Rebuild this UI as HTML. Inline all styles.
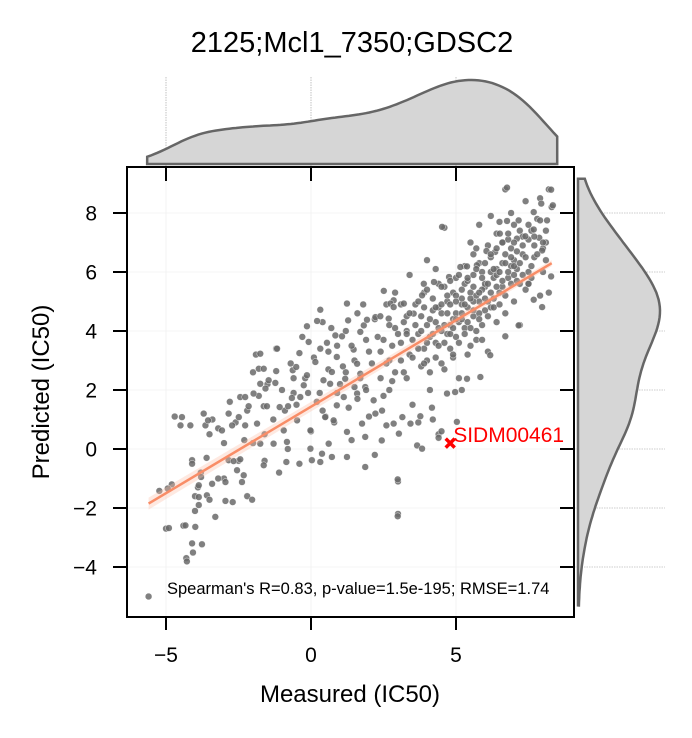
<!DOCTYPE html>
<html><head><meta charset="utf-8">
<style>
html,body{margin:0;padding:0;background:#fff;}
svg{display:block;font-family:"Liberation Sans",sans-serif;}
</style></head>
<body>
<svg id="chart" width="692" height="738" viewBox="0 0 692 738">
<text x="352" y="52" text-anchor="middle" font-size="29" fill="#000">2125;Mcl1_7350;GDSC2</text>
<g id="gTop"></g>
<g id="gRight"></g>
<g id="gMain"></g>
<text x="350" y="702" text-anchor="middle" font-size="24">Measured (IC50)</text>
<text transform="translate(49,392) rotate(-90)" text-anchor="middle" font-size="24">Predicted (IC50)</text>
</svg>
<script>
const measured=[-5.6,-5.0,-4.7,-4.5,-4.3,-4.1,-4.4,-4.0,-3.9,-3.8,-3.6,-3.5,-3.4,-3.7,-3.2,-3.0,-3.0,-2.8,-2.6,-2.5,-2.3,-2.2,-2.0,-1.9,-1.8,-1.6,-1.5,-1.3,-1.2,-1.0,-0.8,-0.7,-0.5,-0.3,-0.2,0.0,0.1,0.3,0.4,0.6,0.8,0.9,1.0,1.2,1.3,1.5,1.6,1.7,1.9,2.0,2.1,2.2,2.4,2.5,2.6,2.7,2.8,2.9,3.0,3.0,3.1,3.2,3.3,3.4,3.5,3.6,3.7,3.8,3.9,4.0,4.0,4.1,4.2,4.3,4.4,4.4,4.5,4.6,4.6,4.7,4.8,4.9,5.0,5.0,5.1,5.2,5.3,5.3,5.4,5.5,5.6,5.6,5.7,5.8,5.9,5.9,6.0,6.1,6.1,6.2,6.3,6.4,6.4,6.5,6.6,6.7,6.7,6.8,6.9,7.0,7.0,7.1,7.2,7.3,7.4,7.4,7.5,7.6,7.7,7.8,7.9,7.9,8.0,8.1,8.2,8.3,8.2,8.0,5.2,4.2,3.7,2.2,1.4,-0.4,-1.1,-2.7,-3.3,-4.8,-4.0,1.8,0.7,2.9,4.3,5.5,3.4,6.2,6.9,7.6,5.8,4.0,3.1,2.3,1.1,0.2,-0.9,-2.0,-1.6,4.5,4.8,5.1,5.4,5.7,6.0,6.3,4.3,4.7,5.0,5.3,5.6,5.9,6.2,6.6,6.9,7.2,4.1,3.8,3.5,4.9,5.2,5.5,5.8,6.1,6.4,6.7,7.0,7.3,7.7,4.6,5.0,5.4,5.8,6.2,6.6,7.0,4.4,4.8,5.2,5.6,6.0,6.4,6.8,3.9,3.3,2.7,1.5,0.5,-0.6,7.5,8.1,6.5,5.7,4.9,
-4.45,-4.16,-3.64,-3.55,-5.23,-4.94,-4.1,-4.1,-3.79,-3.87,-3.87,-3.87,-3.59,-3.5,-4.9,-4.33,-3.99,-3.76,-4.07,-4.28,-3.2,-2.95,-2.95,-3.41,-2.2,-2.03,-3.07,-2.84,-2.72,-2.49,-2.44,-2.27,-2.15,-2.27,-1.98,-1.86,-1.75,-1.8,-1.63,-1.75,-1.57,-1.46,-1.23,-1.17,-1.2,-1.63,-1.52,-1.75,-2.84,-2.67,-2.55,-2.44,-2.32,-2.38,-1.63,-1.29,-0.83,-0.85,-1.08,-0.79,-0.66,-0.37,-0.48,-0.94,-0.63,-0.51,-0.4,-0.25,-0.14,0.15,-0.08,-0.02,-0.02,0.03,0.32,0.38,0.61,0.72,1.24,1.24,1.87,0.49,0.78,0.89,1.13,0.32,0.21,-0.14,0.32,0.55,0.84,1.07,1.24,1.28,0.89,0.72,0.43,0.66,1.18,1.47,1.59,1.7,1.82,1.93,2.22,2.39,2.68,2.51,2.85,2.74,1.7,1.87,1.59,2.16,2.22,2.45,1.76,1.87,2.44,2.6,2.85,3.03,2.99,2.99,3.15,3.43,3.66,3.83,3.77,4.17,4.4,4.5,5.03,4.52,6.76,8.28,7.94,8.34,6.76,7.16,8.14,7.68,7.9,6.51,7.1,7.39,7.68,7.87,7.97,6.05,6.35,8.28,7.97,7.68,7.5,7.16,6.7,5.84,5.38,6.18,4.69,4.97,5.15,5.38,5.72,3.89,4.24,4.76,3.83,3.2,2.85,3.54,
3.3,3.4,3.5,3.6,3.7,3.7,3.8,3.9,3.9,4.0,4.0,4.1,4.1,4.2,4.2,4.3,4.3,4.4,4.4,4.5,4.5,4.5,4.6,4.6,4.7,4.7,4.8,4.8,4.9,4.9,5.0,5.0,5.1,5.1,5.2,5.2,5.3,5.3,5.4,5.4,5.5,5.5,5.6,5.6,5.7,5.7,5.8,5.8,5.9,5.9,6.0,6.0,6.1,6.1,6.2,6.2,6.3,6.3,6.4,6.4,6.5,6.5,6.6,6.6,6.7,6.7,6.8,6.8,6.9,6.9,7.0,7.0,7.1,7.1,7.2,7.2,7.3,7.3,7.4,7.5,7.5,7.6,7.7,7.8,8.0,8.1,2.5,2.6,2.7,2.8,2.9,3.0,3.1,3.2,3.3,2.4,2.0,1.9,1.6,1.4,1.2,0.9,0.6,0.4,-0.1,-0.6];
const predicted=[-5.0,-2.7,1.1,0.8,-3.7,-3.2,-2.6,-1.6,-1.3,-0.8,-0.3,0.5,1.0,1.2,0.7,-1.0,0.2,1.6,0.9,-0.4,0.3,1.3,2.6,3.2,1.8,0.5,2.2,1.0,3.4,2.0,0.0,2.9,1.5,3.8,2.4,0.6,3.1,1.9,4.3,2.7,0.9,3.5,2.2,4.0,1.4,3.0,4.6,2.4,3.7,1.1,2.9,4.4,3.3,1.8,4.9,3.0,2.3,4.1,-2.2,-1.1,3.6,2.6,4.5,3.2,1.5,4.9,3.9,2.8,5.3,4.2,3.0,2.0,4.7,3.6,5.6,0.5,4.0,2.7,7.5,5.0,3.4,4.4,5.8,3.8,2.4,4.9,6.2,4.1,3.2,5.3,4.5,6.6,3.7,5.0,6.0,4.2,5.5,3.3,6.9,4.8,5.8,4.3,7.3,5.3,6.3,8.8,4.6,5.8,6.8,5.0,7.6,6.1,4.2,6.6,5.4,8.4,7.1,5.8,6.5,7.8,5.2,8.5,6.8,7.4,8.8,8.2,5.3,6.0,2.0,1.0,0.9,-0.2,0.3,-0.5,-0.8,-1.8,-2.3,-1.2,-2.1,4.9,4.1,5.3,6.1,7.0,5.9,7.9,8.0,7.4,7.6,6.4,4.9,3.8,2.8,1.6,1.3,0.2,-0.4,4.6,4.9,4.3,4.8,5.2,4.7,5.1,4.3,3.9,4.6,5.6,5.9,5.4,6.0,5.5,6.2,5.6,3.8,4.5,3.7,5.3,5.1,4.1,4.6,5.0,5.9,6.6,5.9,7.2,6.9,5.5,5.2,5.7,6.3,6.5,7.0,6.4,4.8,4.2,4.4,5.0,5.6,6.1,7.1,3.4,4.0,2.0,2.1,1.1,1.9,6.0,7.0,7.7,6.8,3.1,
1.08,0.8,0.8,0.97,-1.42,-1.34,-0.38,-0.5,-0.95,-1.23,-1.63,-1.9,-1.57,-1.72,-2.68,-2.59,-2.64,-3.23,-3.51,-3.81,-1.0,-1.12,-1.76,-1.18,-1.6,-1.72,0.63,1.2,0.8,1.08,1.76,1.76,1.45,0.8,1.88,0.86,3.23,2.72,2.72,2.21,2.05,2.33,2.24,3.4,2.64,1.45,1.45,0.18,-0.38,-0.41,-0.72,-0.35,-0.89,-1.12,-0.55,0.18,0.24,-0.44,1.42,1.45,1.73,1.76,0.97,0.63,2.67,2.78,3.25,2.16,2.5,2.95,3.63,0.63,0.01,-0.38,-0.44,-0.16,0.18,-0.27,-0.27,0.58,-0.61,1.08,0.97,1.48,1.76,4.72,4.34,4.16,3.4,3.6,3.85,3.82,4.93,4.36,3.12,2.61,2.33,2.21,2.38,3.37,2.89,3.97,4.19,4.38,4.47,4.5,4.42,5.36,5.04,4.93,2.55,2.1,1.88,1.65,1.2,1.3,0.86,0.41,0.29,0.8,0.86,0.52,-1.03,-2.28,1.08,0.86,0.12,0.01,1.11,1.4,0.38,0.6,0.92,7.53,8.86,8.79,8.32,8.26,7.73,7.75,7.75,8.03,7.75,7.3,7.13,7.21,7.44,7.16,6.73,6.71,6.68,5.85,4.81,5.06,5.6,4.19,3.82,2.44,2.38,3.18,1.88,1.93,6.17,6.19,6.23,5.6,5.66,5.83,5.21,4.93,4.81,4.59,
3.9,4.6,3.1,4.2,5.0,3.4,4.0,2.9,4.8,3.6,5.4,4.4,2.6,3.9,5.1,3.1,4.8,4.1,3.5,5.5,4.9,2.9,4.2,3.6,5.2,4.6,3.9,5.7,4.1,3.2,5.0,4.4,5.9,3.6,4.6,5.4,3.9,4.9,5.8,4.3,3.5,5.1,4.7,5.5,4.0,6.1,5.3,4.4,5.8,3.7,5.1,6.3,4.5,5.6,5.3,6.6,4.8,6.1,5.5,6.8,4.9,6.0,5.7,7.0,5.2,6.3,6.0,7.3,5.6,6.5,6.2,7.0,5.7,6.7,6.3,7.4,5.9,6.9,6.5,5.6,7.6,6.2,7.2,6.6,7.0,6.4,3.7,2.9,4.2,3.5,2.6,3.9,3.0,4.3,2.4,2.4,3.3,2.0,1.7,3.5,2.6,1.9,3.3,1.3,1.9,2.4];
const xTicks=[-5,0,5];
const yTicks=[-4,-2,0,2,4,6,8];
const fitLine=[[-5.6,-1.85],[8.3,6.3]];
const highlight=[4.8,0.2];
const highlightLabel="SIDM00461";
const statText="Spearman's R=0.83, p-value=1.5e-195; RMSE=1.74";

const NS="http://www.w3.org/2000/svg";
const L=127,R=574,T=167,B=617;
const sx=v=>311+v*29;
const sy=v=>449-v*29.5;
function mk(tag,attrs,parent){const e=document.createElementNS(NS,tag);for(const k in attrs)e.setAttribute(k,attrs[k]);parent.appendChild(e);return e;}
const gM=document.getElementById('gMain'),gT=document.getElementById('gTop'),gR=document.getElementById('gRight');

xTicks.forEach(t=>{const l=mk('line',{x1:sx(t),x2:sx(t),y1:77,y2:T,stroke:'#999','stroke-width':0.6,'stroke-dasharray':'1.5,1'},gT);

});
yTicks.forEach(t=>{const l=mk('line',{x1:R,x2:665,y1:sy(t),y2:sy(t),stroke:'#999','stroke-width':0.6,'stroke-dasharray':'1.5,1'},gR);

});

function kde(arr,grid,bw){return grid.map(g=>arr.reduce((s,v)=>s+Math.exp(-0.5*((g-v)/bw)**2),0));}
function range(a,b,n){const r=[];for(let i=0;i<=n;i++)r.push(a+(b-a)*i/n);return r;}
const gx=range(Math.min(...measured)-0.05,Math.max(...measured)+0.15,120);
const dx=kde(measured,gx,0.9);const mx=Math.max(...dx);
let p='M'+sx(gx[0])+','+164;
gx.forEach((g,i)=>p+=' L'+sx(g).toFixed(1)+','+(164-dx[i]/mx*84).toFixed(1));
p+=' L'+sx(gx[gx.length-1])+',164 Z';
const tk=mk('path',{d:p,fill:'#d6d6d6',stroke:'#666','stroke-width':2.5},gT);


const gy=range(Math.min(...predicted)-0.3,Math.max(...predicted)+0.3,120);
const dy=kde(predicted,gy,0.85);const my=Math.max(...dy);
let q='M578,'+sy(gy[0]);
gy.forEach((g,i)=>q+=' L'+(578+dy[i]/my*82).toFixed(1)+','+sy(g).toFixed(1));
q+=' L578,'+sy(gy[gy.length-1])+' Z';
const rk=mk('path',{d:q,fill:'#d6d6d6',stroke:'#666','stroke-width':2.5},gR);



const defs=mk('defs',{},gM);const cp=mk('clipPath',{id:'clipMain'},defs);mk('rect',{x:L,y:T,width:R-L,height:B-T},cp);
const inner=mk('g',{'clip-path':'url(#clipMain)'},gM);
xTicks.forEach(t=>mk('line',{x1:sx(t),x2:sx(t),y1:T,y2:B,stroke:'#f0f0f0','stroke-width':0.8},inner));
yTicks.forEach(t=>mk('line',{x1:L,x2:R,y1:sy(t),y2:sy(t),stroke:'#f0f0f0','stroke-width':0.8},inner));

measured.forEach((m,i)=>{const c=mk('circle',{cx:sx(m),cy:sy(predicted[i]),r:3.4,fill:'#6a6a6a','fill-opacity':0.85,stroke:'#fff','stroke-width':0.4},inner);

});

const band=mk('path',{d:`M${sx(fitLine[0][0])},${sy(fitLine[0][1])-6} L${sx(fitLine[1][0])},${sy(fitLine[1][1])-3} L${sx(fitLine[1][0])},${sy(fitLine[1][1])+3} L${sx(fitLine[0][0])},${sy(fitLine[0][1])+6} Z`,fill:'#fcc0a8','fill-opacity':0.35},inner);


const fl=mk('line',{x1:sx(fitLine[0][0]),y1:sy(fitLine[0][1]),x2:sx(fitLine[1][0]),y2:sy(fitLine[1][1]),stroke:'#f98d67','stroke-width':2.5},inner);



const hx=sx(highlight[0]),hy=sy(highlight[1]);
const hm=mk('path',{d:`M${hx-4.5},${hy-4.5} L${hx+4.5},${hy+4.5} M${hx+4.5},${hy-4.5} L${hx-4.5},${hy+4.5}`,stroke:'#f00','stroke-width':3.5},inner);


const ht=mk('text',{x:hx+3,y:hy-1,fill:'#f00','font-size':21},inner);ht.textContent=highlightLabel;



const st=mk('text',{x:167,y:594,'font-size':16.5},gM);st.textContent=statText;



const fr=mk('rect',{x:L,y:T,width:R-L,height:B-T,fill:'none',stroke:'#000','stroke-width':2},gM);



xTicks.forEach(t=>{mk('line',{x1:sx(t),x2:sx(t),y1:B,y2:B+13,stroke:'#000','stroke-width':2},gM);
mk('line',{x1:sx(t),x2:sx(t),y1:T,y2:T+14,stroke:'#000','stroke-width':2},gM);
const tx=mk('text',{x:sx(t),y:B+45,'text-anchor':'middle','font-size':21},gM);tx.textContent=t<0?'\u2212'+(-t):t;

});
yTicks.forEach(t=>{mk('line',{x1:L-14,x2:L,y1:sy(t),y2:sy(t),stroke:'#000','stroke-width':2},gM);
mk('line',{x1:R-14,x2:R,y1:sy(t),y2:sy(t),stroke:'#000','stroke-width':2},gM);
const tx=mk('text',{x:L-30,y:sy(t)+7.5,'text-anchor':'end','font-size':21},gM);tx.textContent=t<0?'\u2212'+(-t):t;

});
</script>
</body></html>
